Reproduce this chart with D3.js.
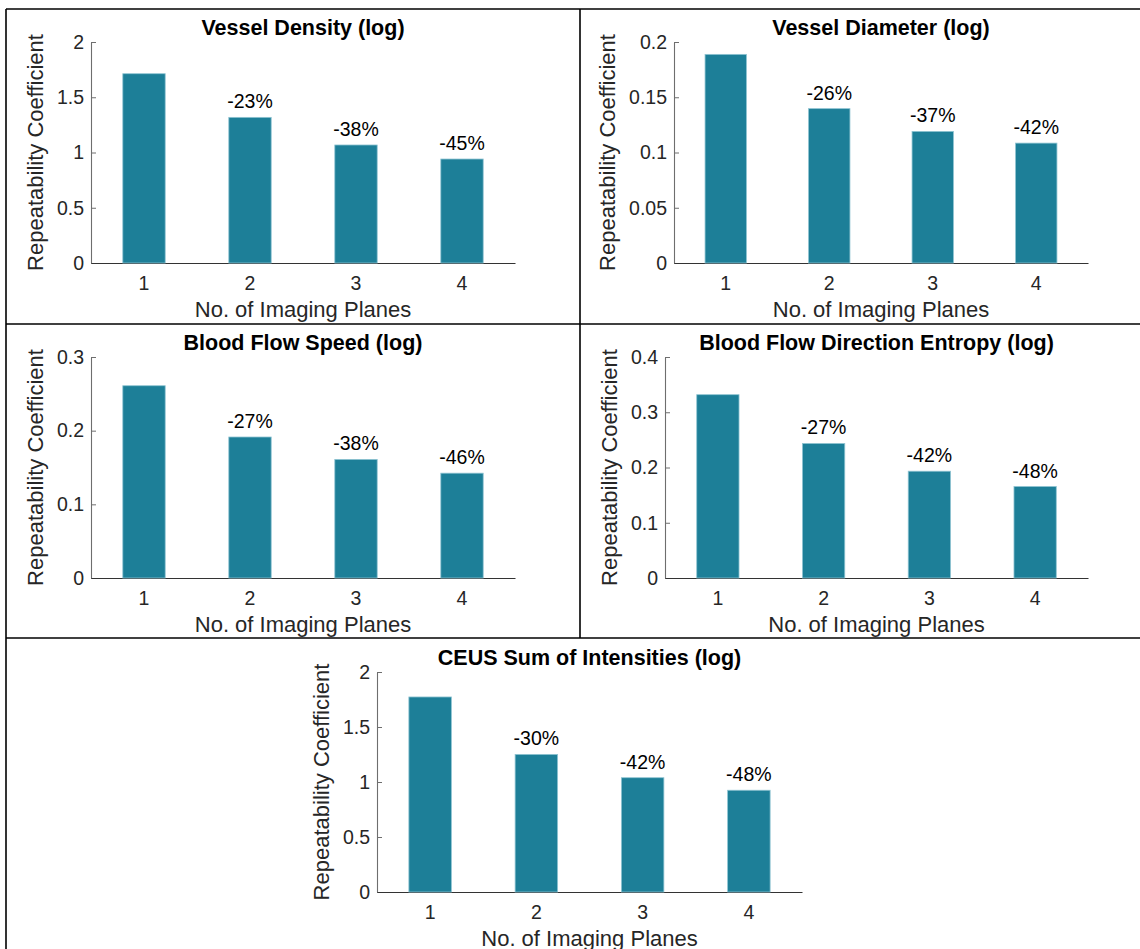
<!DOCTYPE html>
<html>
<head>
<meta charset="utf-8">
<script src="https://cdn.jsdelivr.net/npm/d3@7"></script>
<style>
  html, body { margin: 0; padding: 0; background: #fff; }
  svg { display: block; font-family: "Liberation Sans", Arial, Helvetica, sans-serif; }
</style>
</head>
<body>
<svg id="fig" width="1140" height="949"></svg>
<script>
// Number of imaging planes (x categories)
const planes = [1, 2, 3, 4];

// Repeatability coefficient per metric
const vesselDensity   = [1.713, 1.318, 1.068, 0.941];
const vesselDiameter  = [0.1888, 0.1397, 0.1191, 0.1085];
const flowSpeed       = [0.261, 0.1914, 0.161, 0.1423];
const flowEntropy     = [0.3318, 0.2435, 0.1933, 0.1656];
const ceusIntensity   = [1.773, 1.251, 1.039, 0.925];

// Reduction relative to a single plane
const vesselDensityPct  = ["", "-23%", "-38%", "-45%"];
const vesselDiameterPct = ["", "-26%", "-37%", "-42%"];
const flowSpeedPct      = ["", "-27%", "-38%", "-46%"];
const flowEntropyPct    = ["", "-27%", "-42%", "-48%"];
const ceusIntensityPct  = ["", "-30%", "-42%", "-48%"];

// Y tick values per panel
const ticksDensity   = [0, 0.5, 1, 1.5, 2];
const ticksDiameter  = [0, 0.05, 0.1, 0.15, 0.2];
const ticksSpeed     = [0, 0.1, 0.2, 0.3];
const ticksEntropy   = [0, 0.1, 0.2, 0.3, 0.4];
const ticksCeus      = [0, 0.5, 1, 1.5, 2];

const titles = [
  "Vessel Density (log)",
  "Vessel Diameter (log)",
  "Blood Flow Speed (log)",
  "Blood Flow Direction Entropy (log)",
  "CEUS Sum of Intensities (log)"
];
const xLabel = "No. of Imaging Planes";
const yLabel = "Repeatability Coefficient";

// Panel definitions: data + plot box in page pixels
const panels = [
  { title: titles[0], values: vesselDensity,  pct: vesselDensityPct,  ticks: ticksDensity,  yMax: 2,   box: { x0: 91,  x1: 515,  y0: 42,  y1: 263 } },
  { title: titles[1], values: vesselDiameter, pct: vesselDiameterPct, ticks: ticksDiameter, yMax: 0.2, box: { x0: 674, x1: 1088, y0: 42,  y1: 263 } },
  { title: titles[2], values: flowSpeed,      pct: flowSpeedPct,      ticks: ticksSpeed,    yMax: 0.3, box: { x0: 91,  x1: 515,  y0: 357, y1: 578 } },
  { title: titles[3], values: flowEntropy,    pct: flowEntropyPct,    ticks: ticksEntropy,  yMax: 0.4, box: { x0: 665, x1: 1088, y0: 357, y1: 578 } },
  { title: titles[4], values: ceusIntensity,  pct: ceusIntensityPct,  ticks: ticksCeus,     yMax: 2,   box: { x0: 377, x1: 802,  y0: 672, y1: 892 } }
];

const barColor = "#1d7f98";
const barEdge = "#8fc4d2";
const textColor = "#262626";
const tickFont = 19.5;
const labelFont = 22;
const titleFont = 21.5;

const svg = d3.select("#fig");

// Frame lines separating the subfigures
const frame = svg.append("g").attr("stroke", "#000").attr("stroke-width", 1.6);
frame.append("line").attr("x1", 6).attr("x2", 1140).attr("y1", 9).attr("y2", 9);
frame.append("line").attr("x1", 6).attr("x2", 6).attr("y1", 9).attr("y2", 949);
frame.append("line").attr("x1", 580).attr("x2", 580).attr("y1", 9).attr("y2", 638);
frame.append("line").attr("x1", 6).attr("x2", 1140).attr("y1", 324).attr("y2", 324);
frame.append("line").attr("x1", 6).attr("x2", 1140).attr("y1", 638).attr("y2", 638);

panels.forEach(p => {
  const b = p.box;
  const g = svg.append("g");

  const x = d3.scaleBand()
    .domain(planes)
    .range([b.x0, b.x1])
    .paddingInner(0.6)
    .paddingOuter(0.3);

  const y = d3.scaleLinear()
    .domain([0, p.yMax])
    .range([b.y1, b.y0]);

  // Y axis: inward ticks, labels on the left
  const yAxis = g.append("g")
    .attr("transform", `translate(${b.x0},0)`)
    .call(d3.axisLeft(y)
      .tickValues(p.ticks)
      .tickFormat(d => String(d))
      .tickSizeInner(-5)
      .tickSizeOuter(0)
      .tickPadding(7));
  yAxis.select(".domain").attr("stroke", "#6e6e6e").attr("stroke-width", 1.1);
  yAxis.selectAll(".tick line").attr("stroke", "#6e6e6e");
  yAxis.selectAll(".tick text")
    .attr("fill", textColor)
    .style("font-size", tickFont + "px")
    .style("font-family", "Liberation Sans, Arial, sans-serif");

  // X axis
  const xAxis = g.append("g")
    .attr("transform", `translate(0,${b.y1})`)
    .call(d3.axisBottom(x)
      .tickSizeInner(-5)
      .tickSizeOuter(0)
      .tickPadding(13));
  xAxis.select(".domain").attr("stroke", "#333").attr("stroke-width", 1.2);
  xAxis.selectAll(".tick line").attr("stroke", "#333");
  xAxis.selectAll(".tick text")
    .attr("fill", textColor)
    .style("font-size", tickFont + "px")
    .style("font-family", "Liberation Sans, Arial, sans-serif");

  // Bars
  g.append("g").selectAll("rect")
    .data(planes.map((k, i) => ({ k, v: p.values[i] })))
    .join("rect")
    .attr("x", d => x(d.k))
    .attr("width", x.bandwidth())
    .attr("y", d => y(d.v))
    .attr("height", d => y(0) - y(d.v))
    .attr("fill", barColor)
    .attr("stroke", barEdge)
    .attr("stroke-width", 0.8);

  // Percentage change labels above bars 2..4
  g.append("g").selectAll("text")
    .data(planes.map((k, i) => ({ k, v: p.values[i], t: p.pct[i] })).filter(d => d.t))
    .join("text")
    .attr("x", d => x(d.k) + x.bandwidth() / 2)
    .attr("y", d => y(d.v) - 9)
    .attr("text-anchor", "middle")
    .attr("fill", "#000")
    .style("font-size", tickFont + "px")
    .text(d => d.t);

  // Title
  g.append("text")
    .attr("x", (b.x0 + b.x1) / 2)
    .attr("y", b.y0 - 7)
    .attr("text-anchor", "middle")
    .attr("fill", "#000")
    .style("font-size", titleFont + "px")
    .style("font-weight", "bold")
    .text(p.title);

  // X label
  g.append("text")
    .attr("x", (b.x0 + b.x1) / 2)
    .attr("y", b.y1 + 54)
    .attr("text-anchor", "middle")
    .attr("fill", textColor)
    .style("font-size", labelFont + "px")
    .text(xLabel);

  // Y label, placed just left of the widest tick label
  let maxW = 0;
  yAxis.selectAll(".tick text").each(function () {
    maxW = Math.max(maxW, this.getComputedTextLength());
  });
  const lx = b.x0 - 7 - maxW - 14;
  g.append("text")
    .attr("transform", `translate(${lx},${(b.y0 + b.y1) / 2}) rotate(-90)`)
    .attr("text-anchor", "middle")
    .attr("fill", textColor)
    .style("font-size", labelFont + "px")
    .text(yLabel);
});
</script>
</body>
</html>
